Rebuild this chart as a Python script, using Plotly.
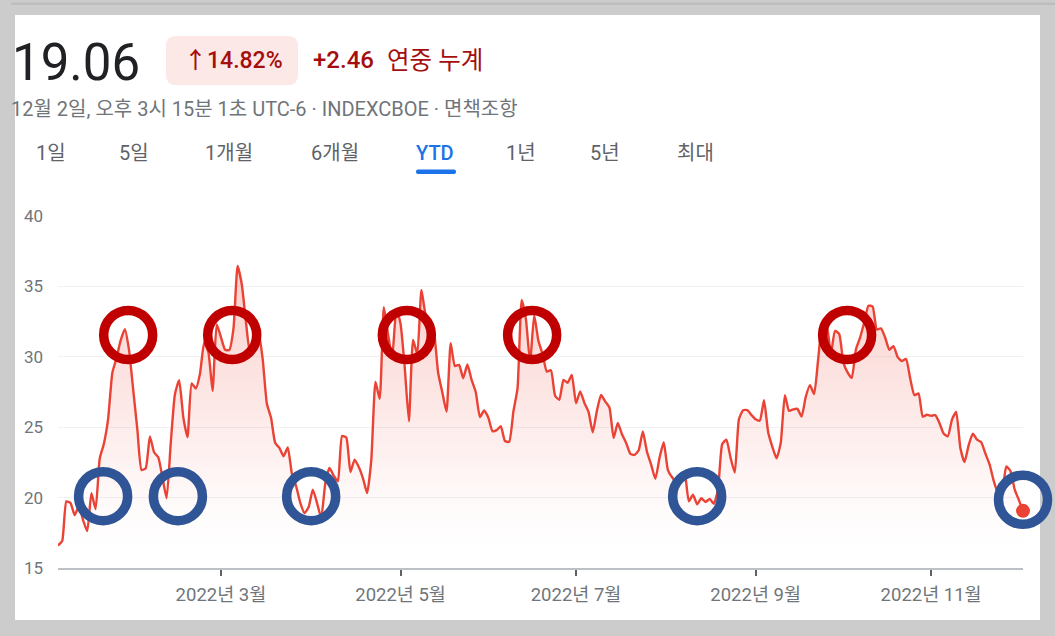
import plotly.graph_objects as go

# ---------------- data (VIX, YTD 2022, trading days) ----------------
dates = [
    "2022-01-03","2022-01-04","2022-01-05","2022-01-06","2022-01-07","2022-01-10","2022-01-11","2022-01-12","2022-01-13","2022-01-14",
    "2022-01-18","2022-01-19","2022-01-20","2022-01-21","2022-01-24","2022-01-25","2022-01-26","2022-01-27","2022-01-28","2022-01-31",
    "2022-02-01","2022-02-02","2022-02-03","2022-02-04","2022-02-07","2022-02-08","2022-02-09","2022-02-10","2022-02-11","2022-02-14",
    "2022-02-15","2022-02-16","2022-02-17","2022-02-18","2022-02-22","2022-02-23","2022-02-24","2022-02-25","2022-02-28",
    "2022-03-01","2022-03-02","2022-03-03","2022-03-04","2022-03-07","2022-03-08","2022-03-09","2022-03-10","2022-03-11","2022-03-14",
    "2022-03-15","2022-03-16","2022-03-17","2022-03-18","2022-03-21","2022-03-22","2022-03-23","2022-03-24","2022-03-25","2022-03-28",
    "2022-03-29","2022-03-30","2022-03-31",
    "2022-04-01","2022-04-04","2022-04-05","2022-04-06","2022-04-07","2022-04-08","2022-04-11","2022-04-12","2022-04-13","2022-04-14",
    "2022-04-18","2022-04-19","2022-04-20","2022-04-21","2022-04-22","2022-04-25","2022-04-26","2022-04-27","2022-04-28","2022-04-29",
    "2022-05-02","2022-05-03","2022-05-04","2022-05-05","2022-05-06","2022-05-09","2022-05-10","2022-05-11","2022-05-12","2022-05-13",
    "2022-05-16","2022-05-17","2022-05-18","2022-05-19","2022-05-20","2022-05-23","2022-05-24","2022-05-25","2022-05-26","2022-05-27",
    "2022-05-31",
    "2022-06-01","2022-06-02","2022-06-03","2022-06-06","2022-06-07","2022-06-08","2022-06-09","2022-06-10","2022-06-13","2022-06-14",
    "2022-06-15","2022-06-16","2022-06-17","2022-06-21","2022-06-22","2022-06-23","2022-06-24","2022-06-27","2022-06-28","2022-06-29",
    "2022-06-30",
    "2022-07-01","2022-07-05","2022-07-06","2022-07-07","2022-07-08","2022-07-11","2022-07-12","2022-07-13","2022-07-14","2022-07-15",
    "2022-07-18","2022-07-19","2022-07-20","2022-07-21","2022-07-22","2022-07-25","2022-07-26","2022-07-27","2022-07-28","2022-07-29",
    "2022-08-01","2022-08-02","2022-08-03","2022-08-04","2022-08-05","2022-08-08","2022-08-09","2022-08-10","2022-08-11","2022-08-12",
    "2022-08-15","2022-08-16","2022-08-17","2022-08-18","2022-08-19","2022-08-22","2022-08-23","2022-08-24","2022-08-25","2022-08-26",
    "2022-08-29","2022-08-30","2022-08-31",
    "2022-09-01","2022-09-02","2022-09-06","2022-09-07","2022-09-08","2022-09-09","2022-09-12","2022-09-13","2022-09-14","2022-09-15",
    "2022-09-16","2022-09-19","2022-09-20","2022-09-21","2022-09-22","2022-09-23","2022-09-26","2022-09-27","2022-09-28","2022-09-29",
    "2022-09-30",
    "2022-10-03","2022-10-04","2022-10-05","2022-10-06","2022-10-07","2022-10-10","2022-10-11","2022-10-12","2022-10-13","2022-10-14",
    "2022-10-17","2022-10-18","2022-10-19","2022-10-20","2022-10-21","2022-10-24","2022-10-25","2022-10-26","2022-10-27","2022-10-28",
    "2022-10-31",
    "2022-11-01","2022-11-02","2022-11-03","2022-11-04","2022-11-07","2022-11-08","2022-11-09","2022-11-10","2022-11-11","2022-11-14",
    "2022-11-15","2022-11-16","2022-11-17","2022-11-18","2022-11-21","2022-11-22","2022-11-23","2022-11-25","2022-11-28","2022-11-29",
    "2022-11-30",
    "2022-12-01","2022-12-02",
]
vix = [
    16.60, 16.91, 19.73, 19.61, 18.76, 19.40, 18.41, 17.62, 20.31, 19.19,
    22.79, 23.85, 25.59, 28.85, 29.90, 31.16, 31.96, 30.49, 27.66, 24.83,
    21.96, 22.09, 24.35, 23.22, 22.86, 21.44, 19.96, 23.91, 27.36, 28.33,
    25.70, 24.29, 28.11, 27.75, 28.81, 31.02, 30.32, 27.59, 32.30,
    31.40, 30.50, 30.48, 31.98, 36.45, 35.13, 32.45, 30.23, 30.75, 31.77,
    29.83, 26.67, 25.67, 23.87, 23.53, 22.94, 23.57, 21.67, 20.81, 19.63,
    18.90, 19.33, 20.56,
    19.63, 18.57, 21.03, 22.10, 21.55, 21.16, 24.37, 24.26, 21.82, 22.70,
    22.17, 21.37, 20.32, 22.68, 28.21, 27.02, 33.52, 31.60, 29.99, 33.40,
    32.34, 29.25, 25.42, 31.20, 30.19, 34.75, 32.99, 32.56, 31.77, 28.87,
    27.47, 26.10, 30.96, 29.35, 29.43, 28.48, 29.45, 28.37, 27.50, 25.72,
    26.19,
    25.69, 24.72, 24.79, 25.07, 24.02, 23.96, 26.09, 27.75, 34.02, 32.69,
    29.62, 32.95, 31.13, 30.19, 28.95, 29.05, 27.23, 26.95, 28.36, 28.16,
    28.71,
    26.70, 27.54, 26.73, 26.08, 24.64, 26.17, 27.29, 26.82, 26.40, 24.23,
    25.30, 24.50, 23.88, 23.11, 23.03, 23.36, 24.69, 23.24, 22.33, 21.33,
    22.84, 23.93, 21.95, 21.44, 21.15, 21.29, 21.77, 19.74, 20.20, 19.53,
    19.95, 19.69, 19.90, 19.56, 20.60, 23.80, 24.11, 22.82, 21.78, 25.56,
    26.21, 26.21, 25.87,
    25.56, 25.47, 26.91, 24.64, 23.61, 22.79, 23.87, 27.27, 26.16, 26.27,
    26.30, 25.76, 27.16, 27.99, 27.35, 29.92, 32.26, 32.18, 30.18, 31.84,
    31.62,
    29.59, 28.90, 28.50, 30.52, 31.36, 32.45, 33.63, 33.57, 31.94, 32.02,
    31.37, 30.50, 30.76, 29.98, 29.69, 29.85, 28.46, 27.28, 27.39, 25.75,
    25.88,
    25.81, 25.86, 25.30, 24.55, 24.35, 25.54, 26.09, 23.53, 22.52, 23.73,
    24.54, 24.11, 23.93, 23.12, 22.36, 21.18, 20.35, 20.50, 22.21, 21.89,
    20.58,
    19.84, 19.06,
]

x_tick_dates = ["2022-03-01", "2022-05-02", "2022-07-01", "2022-09-01", "2022-11-01"]
x_tick_labels = ["2022년 3월", "2022년 5월", "2022년 7월", "2022년 9월", "2022년 11월"]
y_ticks = [15, 20, 25, 30, 35, 40]
y_min, y_max = 15, 40

# highlight circles: position in trading-day index, value
red_circle_pos = [16.8, 41.7, 83.5, 113.5, 188.9]
red_circle_val = [31.55, 31.55, 31.55, 31.55, 31.55]
blue_circle_pos = [10.8, 28.7, 60.6, 153.0, 231.0]
blue_circle_val = [20.1, 20.1, 20.1, 20.1, 19.85]

header_price = "19.06"
header_pct = "↑14.82%"
header_change = "+2.46"
header_change_label = "연중 누계"
header_sub = "12월 2일, 오후 3시 15분 1초 UTC-6 · INDEXCBOE · 면책조항"
tabs = ["1일", "5일", "1개월", "6개월", "YTD", "1년", "5년", "최대"]
tab_centers = [51, 134, 229, 335, 435, 521, 605, 695]
active_tab = "YTD"

# ---------------- layout helpers ----------------
FW, FH = 1055, 636
L, R, T, B = 58, 1023, 216, 568
FONT = "Roboto, 'Noto Sans CJK KR', sans-serif"


def fx(px):
    return (px - L) / (R - L)


def fy(py):
    return (B - py) / (B - T)


def rounded_rect(x0, y0, x1, y1, r):
    pts = [
        f"M {fx(x0 + r)},{fy(y0)}",
        f"L {fx(x1 - r)},{fy(y0)}",
        f"Q {fx(x1)},{fy(y0)} {fx(x1)},{fy(y0 + r)}",
        f"L {fx(x1)},{fy(y1 - r)}",
        f"Q {fx(x1)},{fy(y1)} {fx(x1 - r)},{fy(y1)}",
        f"L {fx(x0 + r)},{fy(y1)}",
        f"Q {fx(x0)},{fy(y1)} {fx(x0)},{fy(y1 - r)}",
        f"L {fx(x0)},{fy(y0 + r)}",
        f"Q {fx(x0)},{fy(y0)} {fx(x0 + r)},{fy(y0)}",
        "Z",
    ]
    return " ".join(pts)


n = len(dates)

fig = go.Figure()

fig.add_trace(go.Scatter(
    x=dates, y=vix, mode="lines",
    line=dict(color="#ea4335", width=2.4, shape="spline", smoothing=0.5),
    fill="tozeroy",
    fillgradient=dict(
        type="vertical",
        colorscale=[[0, "rgba(234,67,53,0)"], [0.15, "rgba(234,67,53,0.02)"], [1, "rgba(234,67,53,0.26)"]],
        start=16, stop=37,
    ),
    hoverinfo="skip", showlegend=False,
))

fig.add_trace(go.Scatter(
    x=[dates[-1]], y=[vix[-1]], mode="markers",
    marker=dict(color="#ea4335", size=14),
    cliponaxis=False, hoverinfo="skip", showlegend=False,
))

shapes = []
# white card
shapes.append(dict(type="rect", xref="paper", yref="paper",
                   x0=fx(15), x1=fx(1040), y0=fy(620), y1=fy(15),
                   fillcolor="white", line=dict(width=0), layer="below"))
# thin darker line at top
shapes.append(dict(type="rect", xref="paper", yref="paper",
                   x0=fx(11), x1=fx(1055), y0=fy(5), y1=fy(2.5),
                   fillcolor="#bdbdbd", line=dict(width=0), layer="below"))
# badge
shapes.append(dict(type="path", xref="paper", yref="paper",
                   path=rounded_rect(166, 36, 298, 85, 10),
                   fillcolor="#fce8e6", line=dict(width=0), layer="below"))
# active-tab underline
shapes.append(dict(type="path", xref="paper", yref="paper",
                   path=rounded_rect(416, 169.5, 456, 174, 2),
                   fillcolor="#1a73e8", line=dict(width=0), layer="above"))


def circle(pos, val, color):
    # anchored in paper units derived from the axis scales (so it is not clipped)
    return dict(type="circle", xref="paper", yref="paper", xsizemode="pixel", ysizemode="pixel",
                xanchor=pos / (n - 1), yanchor=(val - y_min) / (y_max - y_min),
                x0=-24.5, x1=24.5, y0=-24.5, y1=24.5,
                line=dict(color=color, width=9.5), layer="above")


for pos, val in zip(red_circle_pos, red_circle_val):
    shapes.append(circle(pos, val, "#c00000"))
for pos, val in zip(blue_circle_pos, blue_circle_val):
    shapes.append(circle(pos, val, "#2f5597"))

annotations = []


def add_text(text, px, py, size, color, xanchor="left", weight="normal"):
    annotations.append(dict(text=text, x=fx(px), y=fy(py), xref="paper", yref="paper",
                            xanchor=xanchor, yanchor="middle", showarrow=False,
                            font=dict(family=FONT, size=size, color=color, weight=weight)))


add_text(header_price, 10, 62, 51, "#202124")
add_text(header_pct, 233, 60, 23, "#a50e0e", xanchor="center", weight=500)
add_text(header_change, 311, 60, 24, "#a50e0e", weight=500)
add_text(header_change_label, 385, 60, 24.5, "#a50e0e")
add_text(header_sub, 9, 109, 20, "#70757a")
for t, c in zip(tabs, tab_centers):
    if t == active_tab:
        add_text(t, c, 153, 20, "#1a73e8", xanchor="center", weight=500)
    else:
        add_text(t, c, 153, 20, "#5f6368", xanchor="center")

fig.update_layout(
    width=FW, height=FH,
    margin=dict(l=L, r=FW - R, t=T, b=FH - B, pad=0),
    paper_bgcolor="#cccccc",
    plot_bgcolor="rgba(0,0,0,0)",
    font=dict(family=FONT, color="#70757a"),
    shapes=shapes,
    annotations=annotations,
    showlegend=False,
    hovermode=False,
)

fig.update_xaxes(
    type="category", range=[0, n - 1],
    tickmode="array", tickvals=x_tick_dates, ticktext=x_tick_labels,
    showgrid=False, zeroline=False,
    showline=True, linecolor="#bdc1c6", linewidth=2,
    ticks="outside", ticklen=6, tickwidth=2, tickcolor="#5f6368",
    tickfont=dict(size=18.5, color="#70757a"),
    ticklabelstandoff=3,
)
fig.update_yaxes(
    range=[y_min, y_max], tickmode="array", tickvals=y_ticks,
    showgrid=True, gridcolor="#f1f1f1", gridwidth=1,
    zeroline=False, showline=False, ticks="",
    tickfont=dict(size=17, color="#70757a"),
    ticklabelstandoff=14,
)

fig.write_html("out.html", config={"displayModeBar": False},
               post_script="document.body.style.margin='0';")
